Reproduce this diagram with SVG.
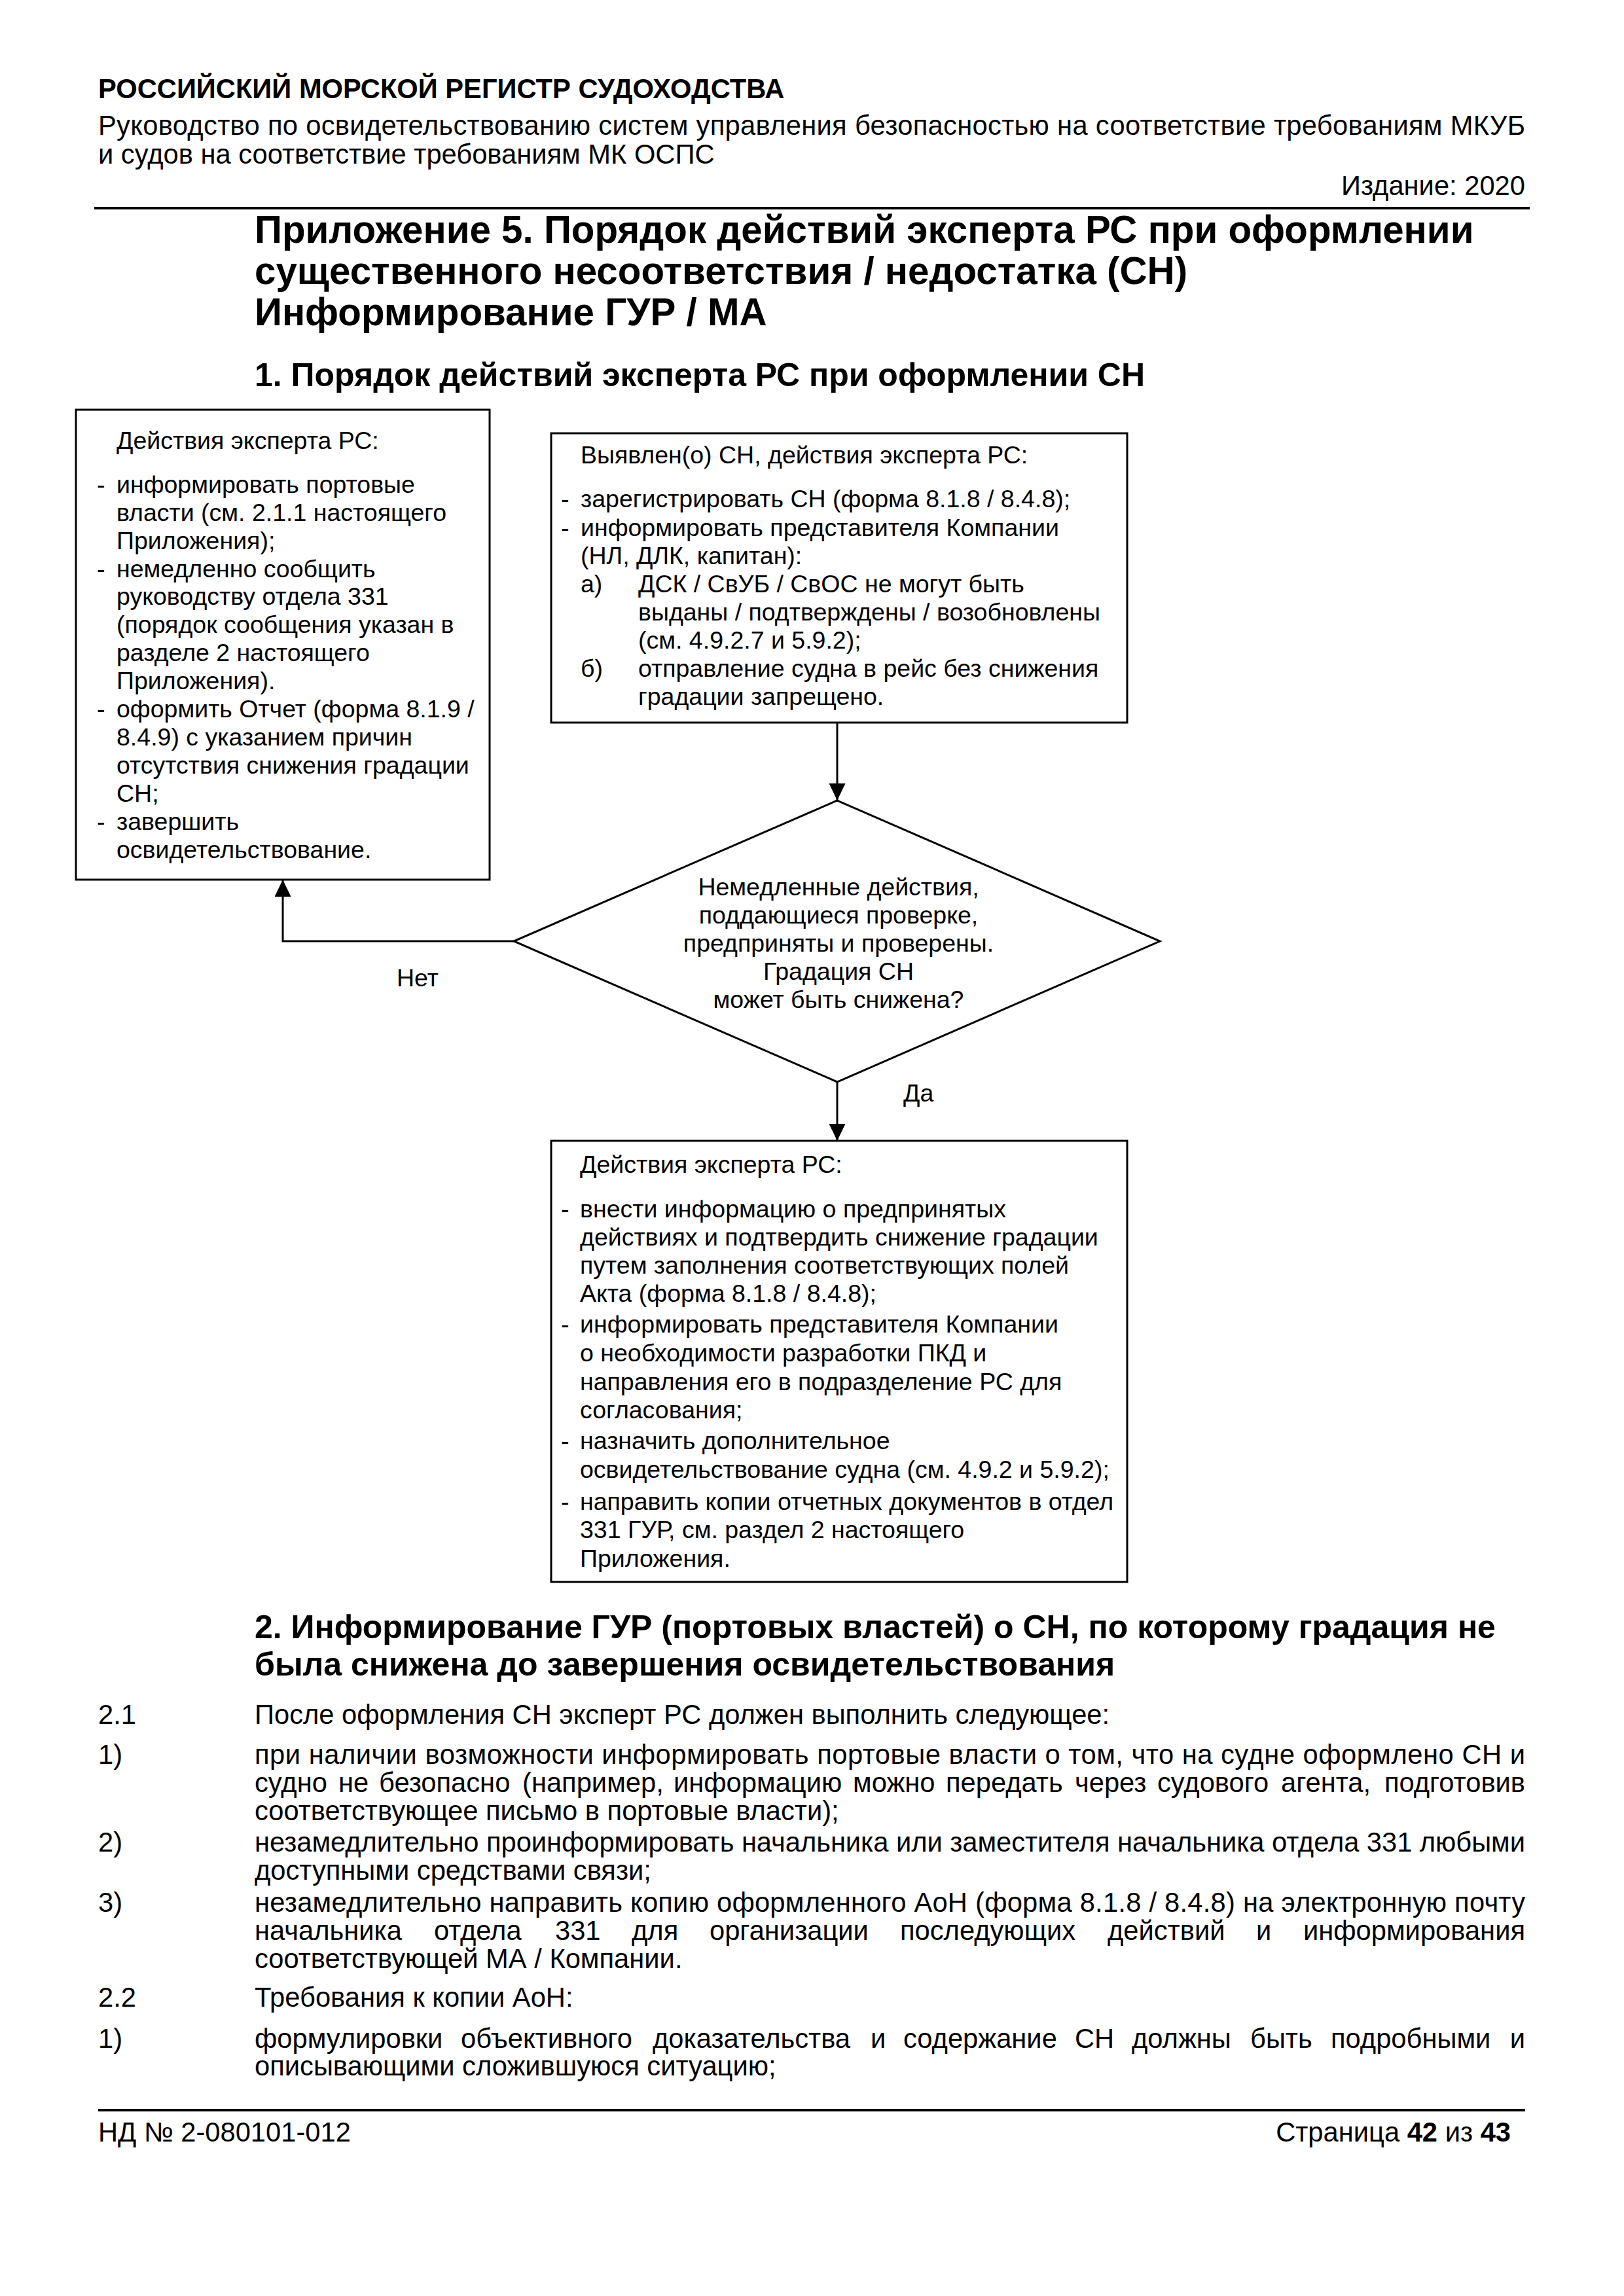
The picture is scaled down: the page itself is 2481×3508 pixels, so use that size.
<svg xmlns="http://www.w3.org/2000/svg" width="2481" height="3508" viewBox="0 0 2481 3508">
<style>
text{font-family:"Liberation Sans",Arial,sans-serif;fill:#000}
.hb{font-size:41.7px;font-weight:bold}
.t{font-size:41.7px}
.ti{font-size:58.3px;font-weight:bold}
.sh{font-size:50px;font-weight:bold}
.b{font-size:37.5px}
.c{text-anchor:middle}
.e{text-anchor:end}
.box{fill:none;stroke:#000;stroke-width:3}
.ln{fill:none;stroke:#000;stroke-width:3}
.rule{stroke:#000;stroke-width:4}
</style>
<defs>
<marker id="arr" markerUnits="userSpaceOnUse" markerWidth="26" markerHeight="26" refX="26" refY="12.5" orient="auto">
<path d="M0,0 L26,12.5 L0,25 z" fill="#000"/>
</marker>
</defs>
<rect width="2481" height="3508" fill="#fff"/>

<g id="header">
<text class="hb" x="150" y="150">РОССИЙСКИЙ МОРСКОЙ РЕГИСТР СУДОХОДСТВА</text>
<text class="t" x="150" y="206" textLength="2180" lengthAdjust="spacing">Руководство по освидетельствованию систем управления безопасностью на соответствие требованиям МКУБ</text>
<text class="t" x="150" y="250">и судов на соответствие требованиям МК ОСПС</text>
<text class="t e" x="2330" y="298">Издание: 2020</text>
<line class="rule" x1="144" y1="318" x2="2337" y2="318"/>
</g>

<g id="title">
<text class="ti" x="389" y="371">Приложение 5. Порядок действий эксперта РС при оформлении</text>
<text class="ti" x="389" y="434">существенного несоответствия / недостатка (СН)</text>
<text class="ti" x="389" y="497">Информирование ГУР / МА</text>
<text class="sh" x="389" y="590">1. Порядок действий эксперта РС при оформлении СН</text>
</g>

<g id="node-left">
<rect class="box" x="116" y="626" width="632" height="718"/>
<text class="b" x="178" y="686">Действия эксперта РС:</text>
<text class="b" x="148" y="753">-</text><text class="b" x="178" y="753">информировать портовые</text>
<text class="b" x="178" y="796">власти (см. 2.1.1 настоящего</text>
<text class="b" x="178" y="839">Приложения);</text>
<text class="b" x="148" y="882">-</text><text class="b" x="178" y="882">немедленно сообщить</text>
<text class="b" x="178" y="924">руководству отдела 331</text>
<text class="b" x="178" y="967">(порядок сообщения указан в</text>
<text class="b" x="178" y="1010">разделе 2 настоящего</text>
<text class="b" x="178" y="1053">Приложения).</text>
<text class="b" x="148" y="1096">-</text><text class="b" x="178" y="1096">оформить Отчет (форма 8.1.9 /</text>
<text class="b" x="178" y="1139">8.4.9) с указанием причин</text>
<text class="b" x="178" y="1182">отсутствия снижения градации</text>
<text class="b" x="178" y="1225">СН;</text>
<text class="b" x="148" y="1268">-</text><text class="b" x="178" y="1268">завершить</text>
<text class="b" x="178" y="1311">освидетельствование.</text>
</g>

<g id="node-top">
<rect class="box" x="842" y="662" width="880" height="442"/>
<text class="b" x="887" y="708">Выявлен(о) СН, действия эксперта РС:</text>
<text class="b" x="857" y="775">-</text><text class="b" x="887" y="775">зарегистрировать СН (форма 8.1.8 / 8.4.8);</text>
<text class="b" x="857" y="819">-</text><text class="b" x="887" y="819">информировать представителя Компании</text>
<text class="b" x="887" y="862">(НЛ, ДЛК, капитан):</text>
<text class="b" x="887" y="905">а)</text><text class="b" x="975" y="905">ДСК / СвУБ / СвОС не могут быть</text>
<text class="b" x="975" y="948">выданы / подтверждены / возобновлены</text>
<text class="b" x="975" y="991">(см. 4.9.2.7 и 5.9.2);</text>
<text class="b" x="887" y="1034">б)</text><text class="b" x="975" y="1034">отправление судна в рейс без снижения</text>
<text class="b" x="975" y="1077">градации запрещено.</text>
</g>

<g id="node-decision">
<polygon class="box" points="1279,1223 1772,1438 1279,1653 785,1438"/>
<text class="b c" x="1281" y="1368">Немедленные действия,</text>
<text class="b c" x="1281" y="1411">поддающиеся проверке,</text>
<text class="b c" x="1281" y="1454">предприняты и проверены.</text>
<text class="b c" x="1281" y="1497">Градация СН</text>
<text class="b c" x="1281" y="1540">может быть снижена?</text>
</g>

<g id="node-bottom">
<rect class="box" x="842" y="1743" width="880" height="674"/>
<text class="b" x="886" y="1792">Действия эксперта РС:</text>
<text class="b" x="857" y="1860">-</text><text class="b" x="886" y="1860">внести информацию о предпринятых</text>
<text class="b" x="886" y="1903">действиях и подтвердить снижение градации</text>
<text class="b" x="886" y="1946">путем заполнения соответствующих полей</text>
<text class="b" x="886" y="1989">Акта (форма 8.1.8 / 8.4.8);</text>
<text class="b" x="857" y="2036">-</text><text class="b" x="886" y="2036">информировать представителя Компании</text>
<text class="b" x="886" y="2080">о необходимости разработки ПКД и</text>
<text class="b" x="886" y="2124">направления его в подразделение РС для</text>
<text class="b" x="886" y="2167">согласования;</text>
<text class="b" x="857" y="2214">-</text><text class="b" x="886" y="2214">назначить дополнительное</text>
<text class="b" x="886" y="2258">освидетельствование судна (см. 4.9.2 и 5.9.2);</text>
<text class="b" x="857" y="2307">-</text><text class="b" x="886" y="2307">направить копии отчетных документов в отдел</text>
<text class="b" x="886" y="2350">331 ГУР, см. раздел 2 настоящего</text>
<text class="b" x="886" y="2394">Приложения.</text>
</g>

<g id="connectors">
<polyline class="ln" points="1279,1104 1279,1223" marker-end="url(#arr)"/>
<polyline class="ln" points="785,1438 432,1438 432,1344" marker-end="url(#arr)"/>
<polyline class="ln" points="1279,1653 1279,1743" marker-end="url(#arr)"/>
<text class="b" x="606" y="1507">Нет</text>
<text class="b" x="1380" y="1683">Да</text>
</g>

<g id="section2">
<text class="sh" x="389" y="2503">2. Информирование ГУР (портовых властей) о СН, по которому градация не</text>
<text class="sh" x="389" y="2560">была снижена до завершения освидетельствования</text>
<text class="t" x="150" y="2634">2.1</text>
<text class="t" x="389" y="2634">После оформления СН эксперт РС должен выполнить следующее:</text>
<text class="t" x="150" y="2695">1)</text>
<text class="t" x="389" y="2695" textLength="1941" lengthAdjust="spacing">при наличии возможности информировать портовые власти о том, что на судне оформлено СН и</text>
<text class="t" y="2738"><tspan x="389">судно</tspan><tspan x="517">не</tspan><tspan x="579">безопасно</tspan><tspan x="798">(например,</tspan><tspan x="1029">информацию</tspan><tspan x="1303">можно</tspan><tspan x="1445">передать</tspan><tspan x="1642">через</tspan><tspan x="1768">судового</tspan><tspan x="1957">агента,</tspan></text>
<text class="t e" x="2330" y="2738">подготовив</text>
<text class="t" x="389" y="2781">соответствующее письмо в портовые власти);</text>
<text class="t" x="150" y="2829">2)</text>
<text class="t" x="389" y="2829" textLength="1941" lengthAdjust="spacing">незамедлительно проинформировать начальника или заместителя начальника отдела 331 любыми</text>
<text class="t" x="389" y="2872">доступными средствами связи;</text>
<text class="t" x="150" y="2921">3)</text>
<text class="t" x="389" y="2921" textLength="1941" lengthAdjust="spacing">незамедлительно направить копию оформленного АоН (форма 8.1.8 / 8.4.8) на электронную почту</text>
<text class="t" y="2964"><tspan x="389">начальника</tspan><tspan x="663">отдела</tspan><tspan x="848">331</tspan><tspan x="965">для</tspan><tspan x="1084">организации</tspan><tspan x="1375">последующих</tspan><tspan x="1692">действий</tspan><tspan x="1919">и</tspan></text>
<text class="t e" x="2330" y="2964">информирования</text>
<text class="t" x="389" y="3007">соответствующей МА / Компании.</text>
<text class="t" x="150" y="3066">2.2</text>
<text class="t" x="389" y="3066">Требования к копии АоН:</text>
<text class="t" x="150" y="3129">1)</text>
<text class="t" y="3129"><tspan x="389">формулировки</tspan><tspan x="704">объективного</tspan><tspan x="997">доказательства</tspan><tspan x="1330">и</tspan><tspan x="1380">содержание</tspan><tspan x="1642">СН</tspan><tspan x="1729">должны</tspan><tspan x="1910">быть</tspan><tspan x="2033">подробными</tspan></text>
<text class="t e" x="2330" y="3129">и</text>
<text class="t" x="389" y="3171">описывающими сложившуюся ситуацию;</text>
</g>

<g id="footer">
<line class="rule" x1="150" y1="3224" x2="2330" y2="3224"/>
<text class="t" x="150" y="3272">НД № 2-080101-012</text>
<text class="t e" x="2308" y="3272">Страница <tspan font-weight="bold">42</tspan> из <tspan font-weight="bold">43</tspan></text>
</g>
</svg>
